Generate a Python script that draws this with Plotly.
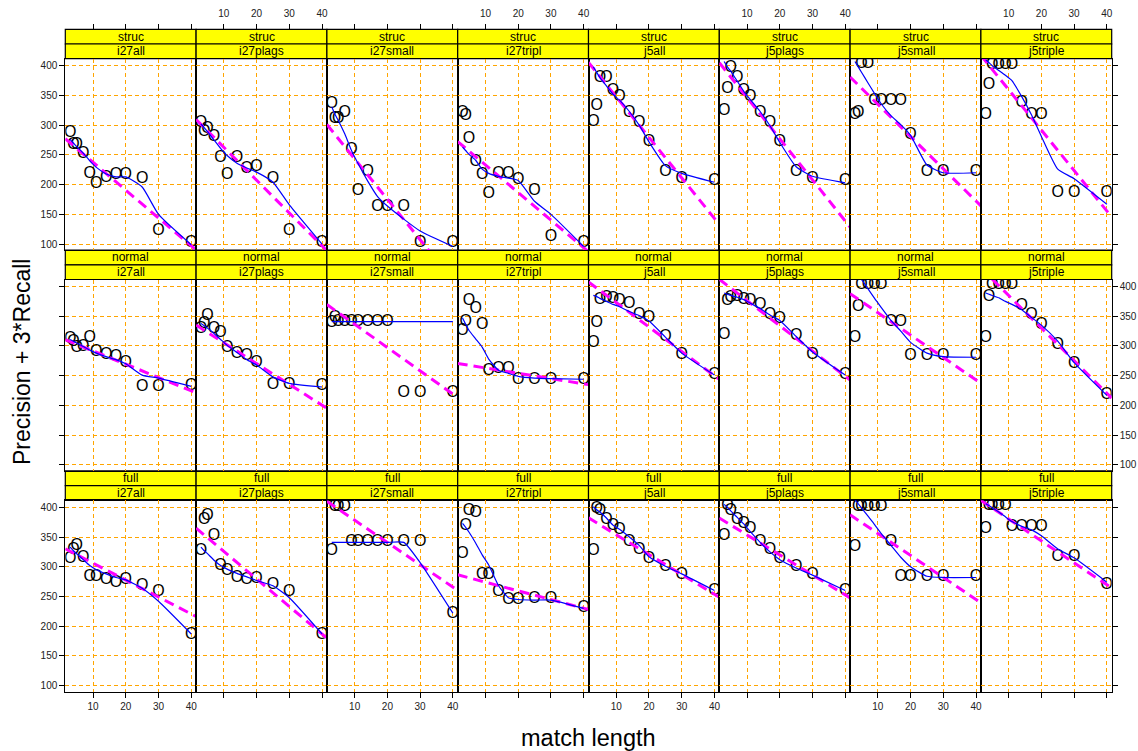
import numpy as np
import plotly.graph_objects as go

# ---------------------------------------------------------------- data
match_length = [3, 4, 5, 7, 9, 11, 14, 17, 20, 25, 30, 40]
datasets = ["i27all", "i27plags", "i27small", "i27tripl",
            "j5all", "j5plags", "j5small", "j5triple"]
settings = ["struc", "normal", "full"]

# Precision + 3*Recall, one row per dataset (same order as `datasets`)
struc_scores = [
    [287, 266, 266, 251, 218, 201, 211, 217, 216, 209, 122, 101],
    [304, 289, 294, 280, 244, 217, 244, 227, 229, 210, 122, 101],
    [335, 310, 310, 321, 258, 189, 221, 162, 162, 162, 101, 101],
    [320, 316, 276, 238, 217, 184, 218, 218, 207, 190, 112, 101],
    [305, 332, 380, 380, 358, 348, 321, 303, 272, 221, 209, 206],
    [324, 360, 396, 380, 358, 348, 321, 303, 272, 221, 209, 206],
    [317, 321, 403, 403, 341, 341, 341, 341, 283, 221, 221, 221],
    [317, 367, 401, 401, 401, 401, 337, 317, 317, 186, 186, 186],
]
normal_scores = [
    [312, 307, 296, 299, 314, 290, 284, 281, 271, 231, 231, 233],
    [328, 337, 350, 328, 322, 297, 287, 283, 271, 234, 234, 233],
    [338, 347, 341, 341, 341, 341, 341, 341, 341, 221, 221, 221],
    [326, 341, 376, 363, 335, 258, 262, 262, 243, 243, 243, 243],
    [305, 338, 378, 381, 379, 376, 370, 352, 347, 315, 284, 251],
    [318, 375, 380, 382, 378, 375, 369, 352, 345, 317, 284, 251],
    [313, 365, 403, 403, 403, 403, 341, 341, 283, 283, 283, 283],
    [313, 382, 402, 402, 402, 402, 368, 352, 335, 301, 269, 217],
]
full_scores = [
    [313, 329, 335, 314, 283, 283, 277, 273, 278, 268, 258, 185],
    [327, 379, 385, 352, 301, 293, 281, 278, 279, 269, 258, 185],
    [327, 400, 400, 400, 341, 341, 341, 341, 341, 341, 341, 221],
    [322, 369, 393, 390, 286, 286, 258, 244, 244, 245, 245, 230],
    [327, 398, 394, 378, 369, 362, 342, 329, 313, 299, 286, 260],
    [352, 402, 394, 378, 372, 363, 342, 329, 313, 299, 286, 260],
    [333, 401, 401, 401, 401, 401, 342, 282, 282, 282, 282, 282],
    [364, 402, 402, 402, 402, 367, 367, 367, 367, 317, 317, 269],
]

# robust smooth of each panel, sampled at `match_length`
struc_smooth = [
    [276, 270, 264, 253, 240, 229, 218, 213, 213, 196, 150, 99],
    [302, 296, 289, 275, 261, 249, 236, 228, 221, 204, 166, 100],
    [331, 318, 308, 285, 258, 236, 206, 180, 164, 142, 122, 96],
    [263, 257, 251, 241, 226, 219, 214, 211, 207, 172, 150, 96],
    [398, 389, 380, 366, 352, 342, 323, 300, 272, 232, 219, 204],
    [407, 398, 391, 374, 357, 343, 323, 299, 271, 230, 214, 203],
    [407, 398, 389, 371, 353, 336, 316, 301, 283, 233, 220, 220],
    [410, 405, 400, 392, 384, 375, 348, 317, 281, 226, 210, 167],
]
normal_smooth = [
    [311, 308, 305, 299, 293, 288, 282, 277, 270, 251, 246, 232],
    [338, 334, 330, 321, 311, 301, 289, 277, 268, 248, 237, 231],
    [341, 341, 341, 341, 341, 341, 341, 341, 341, 341, 341, 341],
    [347, 336, 326, 312, 298, 278, 259, 254, 249, 246, 245, 244],
    [385, 383, 380, 375, 370, 366, 358, 351, 342, 315, 288, 251],
    [389, 387, 385, 382, 378, 372, 363, 352, 343, 316, 290, 251],
    [428, 420, 412, 396, 380, 365, 343, 325, 306, 288, 282, 281],
    [389, 387, 385, 381, 375, 370, 361, 348, 335, 308, 272, 217],
]
full_smooth = [
    [333, 327, 322, 312, 302, 295, 288, 282, 278, 264, 242, 187],
    [333, 327, 322, 311, 302, 296, 289, 283, 277, 268, 248, 187],
    [341, 341, 341, 341, 341, 341, 341, 341, 341, 341, 307, 222],
    [373, 366, 358, 340, 320, 303, 268, 248, 245, 244, 244, 230],
    [401, 396, 392, 382, 370, 363, 350, 336, 317, 301, 288, 260],
    [405, 400, 394, 383, 372, 359, 341, 325, 312, 298, 286, 260],
    [413, 406, 399, 385, 371, 356, 336, 316, 300, 284, 282, 282],
    [406, 403, 399, 392, 384, 376, 368, 362, 352, 330, 315, 274],
]

# straight-line trend per panel: (intercept, slope)
struc_trend = [(284.3, -4.68), (317.9, -5.52), (311.4, -6.80), (279.5, -4.64),
               (415.9, -6.82), (415.6, -6.92), (389.2, -5.42), (427.7, -6.80)]
normal_trend = [(313.9, -2.23), (340.4, -3.50), (375.6, -3.91), (271.9, -0.89),
                (413.9, -4.10), (418.7, -4.24), (393.7, -3.77), (439.7, -5.48)]
full_trend = [(334.6, -2.85), (372.1, -4.63), (415.8, -3.75), (288.7, -1.46),
              (387.3, -3.34), (387.1, -3.36), (393.0, -3.70), (417.3, -3.69)]

scores_by_setting = [struc_scores, normal_scores, full_scores]
smooth_by_setting = [struc_smooth, normal_smooth, full_smooth]
trend_by_setting = [struc_trend, normal_trend, full_trend]

x_ticks = [10, 20, 30, 40]
y_ticks = [100, 150, 200, 250, 300, 350, 400]
x_range = [1.52, 41.48]
y_range = [89.9, 411.8]

# ------------------------------------------------------------- layout
W, H = 1138, 751
col_left = 65.3
panel_w = 130.8
row_top = [29.3, 250.1, 470.9]
strip_h = 14.7
panel_h = 191.4

FONT = "Liberation Sans, Arial, Helvetica, sans-serif"
GRID = "#FFA500"
tick_font = dict(family=FONT, size=10, color="#222222")


def px_x(v):
    return v / W


def px_y(v):
    return 1 - v / H


fig = go.Figure()
layout_axes = {}
shapes = []
annotations = []

for r, setting in enumerate(settings):
    p_top = row_top[r] + 2 * strip_h
    p_bot = p_top + panel_h
    for c, name in enumerate(datasets):
        k = r * 8 + c + 1
        left = col_left + c * panel_w
        right = left + panel_w
        vals = scores_by_setting[r][c]
        smooth = smooth_by_setting[r][c]
        a, b = trend_by_setting[r][c]

        # points drawn as letter glyphs
        fig.add_trace(go.Scatter(
            x=match_length, y=vals, mode="text",
            text=["O"] * len(vals), textposition="middle center",
            textfont=dict(family=FONT, size=16, color="black"),
            xaxis=f"x{k}", yaxis=f"y{k}", hoverinfo="x+y",
            cliponaxis=True, showlegend=False))

        # straight trend line across the whole panel
        tx = np.array(x_range)
        fig.add_trace(go.Scatter(
            x=tx, y=a + b * tx, mode="lines",
            line=dict(color="#FF00FF", width=3, dash="10px,6px"),
            xaxis=f"x{k}", yaxis=f"y{k}", hoverinfo="skip", showlegend=False))

        # smooth curve
        fig.add_trace(go.Scatter(
            x=match_length, y=smooth, mode="lines",
            line=dict(color="#0000FF", width=1.2, shape="spline", smoothing=0.5),
            xaxis=f"x{k}", yaxis=f"y{k}", hoverinfo="skip", showlegend=False))

        bottom_row = r == 2
        layout_axes[f"xaxis{k}"] = dict(
            domain=[px_x(left), px_x(right)], range=x_range, anchor=f"y{k}",
            tickvals=x_ticks, showgrid=True, gridcolor=GRID, gridwidth=1.2,
            griddash="4px,3px", zeroline=False,
            showline=True, mirror=True, linecolor="black", linewidth=1,
            ticks="outside" if bottom_row else "", ticklen=5, tickcolor="black",
            showticklabels=bottom_row and c % 2 == 0, tickfont=tick_font)
        layout_axes[f"yaxis{k}"] = dict(
            domain=[px_y(p_bot), px_y(p_top)], range=y_range, anchor=f"x{k}",
            tickvals=y_ticks, showgrid=True, gridcolor=GRID, gridwidth=1.2,
            griddash="4px,3px", zeroline=False,
            showline=True, mirror=True, linecolor="black", linewidth=1,
            ticks="outside" if c == 0 else "", ticklen=5, tickcolor="black",
            showticklabels=(c == 0 and r != 1), tickfont=tick_font)

        # two stacked strips: setting on top, dataset below
        for j, label in enumerate([setting, name]):
            s_top = row_top[r] + j * strip_h
            shapes.append(dict(
                type="rect", xref="paper", yref="paper",
                x0=px_x(left), x1=px_x(right),
                y0=px_y(s_top + strip_h), y1=px_y(s_top),
                fillcolor="#FFFF00", line=dict(color="black", width=1.2),
                layer="below"))
            annotations.append(dict(
                x=px_x((left + right) / 2), y=px_y(s_top + strip_h / 2),
                xref="paper", yref="paper", text=label, showarrow=False,
                xanchor="center", yanchor="middle",
                font=dict(family=FONT, size=12, color="black")))

# tick marks above the top strips (labels on alternate columns)
for c in range(8):
    k = 25 + c
    left = col_left + c * panel_w
    fig.add_trace(go.Scatter(x=[None], y=[None], xaxis=f"x{k}", yaxis=f"y{c + 1}",
                             showlegend=False, hoverinfo="skip"))
    layout_axes[f"xaxis{k}"] = dict(
        domain=[px_x(left), px_x(left + panel_w)], range=x_range,
        overlaying=f"x{c + 1}", side="top", anchor="free",
        position=px_y(row_top[0]), tickvals=x_ticks, showgrid=False,
        zeroline=False, showline=False, ticks="outside", ticklen=5,
        tickcolor="black", showticklabels=c % 2 == 1, tickfont=tick_font,
        ticklabelstandoff=3)

# tick marks on the right of the last column (labels on middle row)
for r in range(3):
    k = 25 + r
    base = r * 8 + 8
    fig.add_trace(go.Scatter(x=[None], y=[None], xaxis=f"x{base}", yaxis=f"y{k}",
                             showlegend=False, hoverinfo="skip"))
    p_top = row_top[r] + 2 * strip_h
    layout_axes[f"yaxis{k}"] = dict(
        domain=[px_y(p_top + panel_h), px_y(p_top)], range=y_range,
        overlaying=f"y{base}", side="right", anchor=f"x{base}",
        tickvals=y_ticks, showgrid=False, zeroline=False, showline=False,
        ticks="outside", ticklen=5, tickcolor="black",
        showticklabels=r == 1, tickfont=tick_font)

annotations.append(dict(
    x=px_x(588), y=px_y(738), xref="paper", yref="paper", text="match length",
    showarrow=False, xanchor="center", yanchor="middle",
    font=dict(family=FONT, size=23.5, color="black")))
annotations.append(dict(
    x=px_x(22), y=px_y(362), xref="paper", yref="paper",
    text="Precision + 3*Recall", textangle=-90, showarrow=False,
    xanchor="center", yanchor="middle",
    font=dict(family=FONT, size=23, color="black")))

fig.update_layout(
    width=W, height=H, margin=dict(l=0, r=0, t=0, b=0),
    paper_bgcolor="white", plot_bgcolor="white", showlegend=False,
    shapes=shapes, annotations=annotations, **layout_axes)

fig.write_html("out.html")
